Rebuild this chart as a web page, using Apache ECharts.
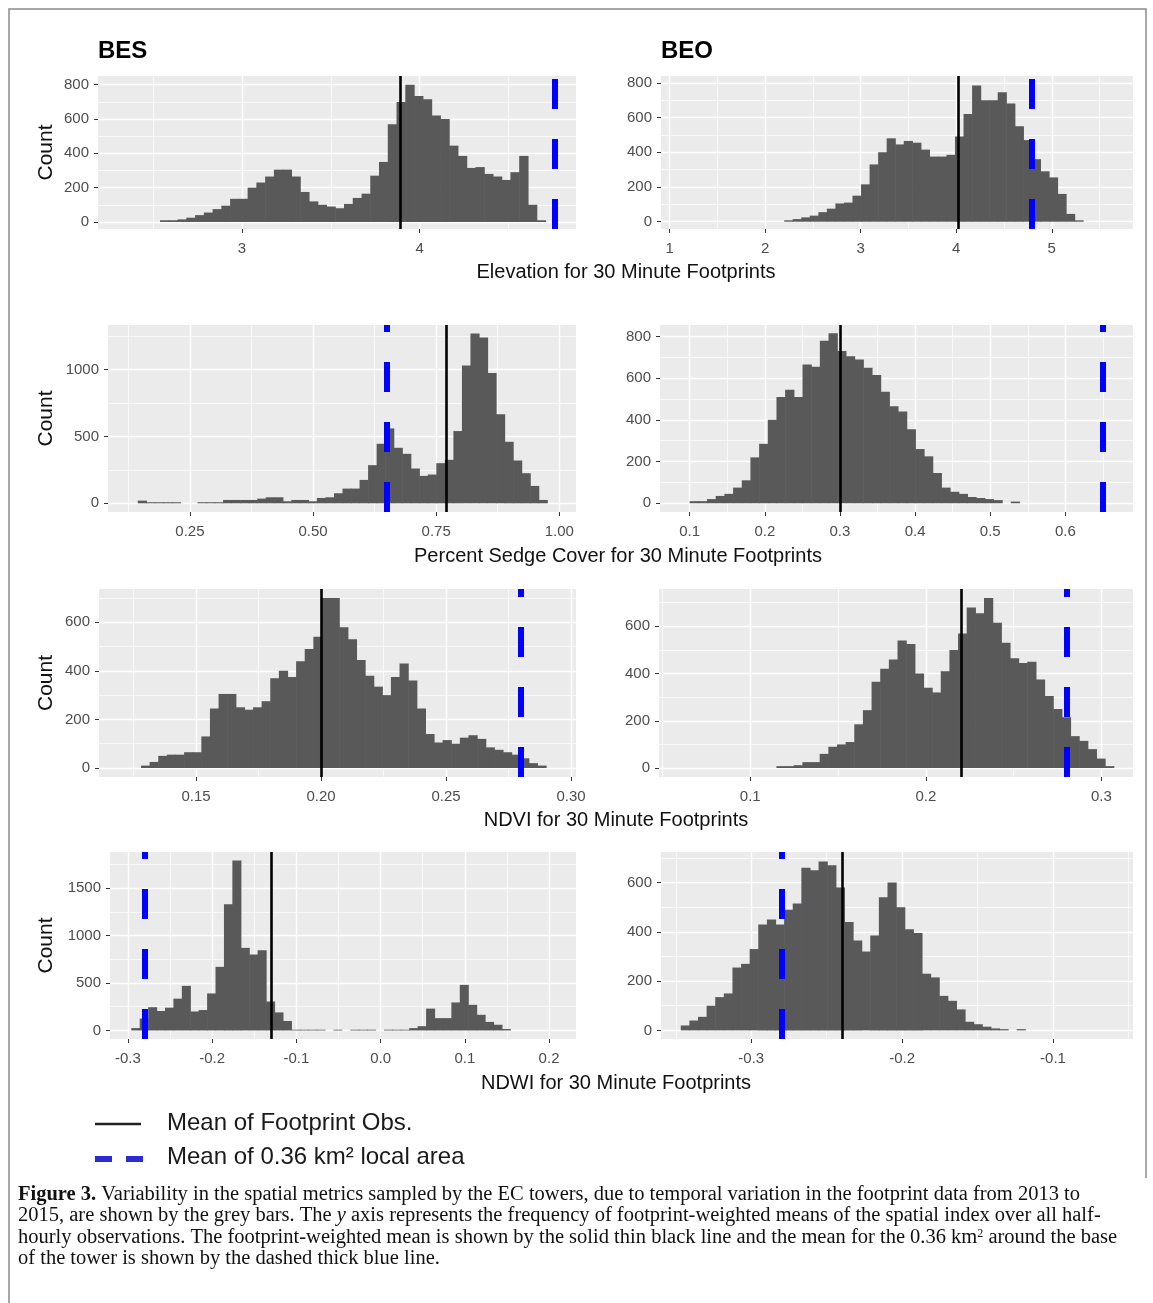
<!DOCTYPE html>
<html>
<head>
<meta charset="utf-8">
<title>Figure 3</title>
<script src="https://cdn.jsdelivr.net/npm/echarts@6.0.0/dist/echarts.min.js"></script>
<style>
html,body{margin:0;padding:0;background:#ffffff;}
#chart{width:1153px;height:1303px;}
</style>
</head>
<body>
<div id="chart"></div>
<script>
// ===================== DATA =====================
// Each histogram: left edge of first bin, bin width, counts per bin
const elevBES_binStart = 2.539;
const elevBES_binWidth = 0.0493;
const elevBES_counts = [10,10,15,25,40,55,75,95,135,135,200,230,265,305,305,265,175,120,100,90,80,105,140,165,270,350,570,700,800,735,715,620,600,445,385,315,320,280,265,245,290,385,100,10];
const elevBES_meanFootprint = 3.89;
const elevBES_meanLocal = 4.76;

const elevBEO_binStart = 2.199;
const elevBEO_binWidth = 0.0894;
const elevBEO_counts = [8,15,25,35,55,75,105,110,150,215,330,400,480,445,465,455,415,375,375,385,490,620,785,700,700,745,680,550,470,360,290,255,160,45,8];
const elevBEO_meanFootprint = 4.02;
const elevBEO_meanLocal = 4.785;

const sedgeBES_binStart = 0.1442;
const sedgeBES_binWidth = 0.01732;
const sedgeBES_counts = [20,8,8,8,8,0,0,8,8,8,25,25,25,25,35,45,45,15,25,25,15,40,45,75,110,110,175,285,445,560,415,370,260,205,215,300,325,540,1030,1270,1240,975,665,460,320,225,130,25];
const sedgeBES_meanFootprint = 0.766;
const sedgeBES_meanLocal = 0.646;

const sedgeBEO_binStart = 0.1;
const sedgeBEO_binWidth = 0.01155;
const sedgeBEO_counts = [10,10,20,35,45,75,110,220,285,400,510,545,510,665,655,780,815,730,705,690,650,615,535,465,440,355,260,225,145,75,55,45,30,25,20,15,0,8];
const sedgeBEO_meanFootprint = 0.300;
const sedgeBEO_meanLocal = 0.647;

const ndviBES_binStart = 0.128;
const ndviBES_binWidth = 0.003447;
const ndviBES_counts = [10,25,50,55,55,65,65,130,245,305,305,250,240,250,275,370,400,375,440,490,540,700,700,580,530,445,380,335,300,375,430,360,245,140,105,115,100,125,135,120,85,75,65,55,40,20,10];
const ndviBES_meanFootprint = 0.2045;
const ndviBES_meanLocal = 0.2766;

const ndviBEO_binStart = 0.1149;
const ndviBEO_binWidth = 0.004926;
const ndviBEO_counts = [8,8,12,25,25,60,90,100,110,185,245,365,420,460,540,525,400,340,320,410,500,570,680,655,720,615,530,465,445,450,375,305,250,215,135,115,80,40,8];
const ndviBEO_meanFootprint = 0.2208;
const ndviBEO_meanLocal = 0.2772;

const ndwiBES_binStart = -0.296;
const ndwiBES_binWidth = 0.01;
const ndwiBES_counts = [25,125,245,205,240,335,470,200,215,390,670,1330,1790,870,800,845,305,190,100,8,8,8,8,0,8,0,8,8,8,0,8,8,8,25,45,230,130,130,295,480,270,165,90,60,15];
const ndwiBES_meanFootprint = -0.134;
const ndwiBES_meanLocal = -0.2787;

const ndwiBEO_binStart = -0.3467;
const ndwiBEO_binWidth = 0.005708;
const ndwiBEO_counts = [20,40,55,100,135,150,255,270,330,430,450,430,490,515,660,650,685,670,580,440,365,320,385,540,600,500,410,395,230,215,140,120,85,35,25,15,8,5,0,5];
const ndwiBEO_meanFootprint = -0.2441;
const ndwiBEO_meanLocal = -0.280;

// Tick values and labels
const elevBES_xTicks = [3, 4];
const elevBES_xLabels = ['3', '4'];
const elevBES_xMinor = [2.5, 3.5, 4.5];
const elevBEO_xTicks = [1, 2, 3, 4, 5];
const elevBEO_xLabels = ['1', '2', '3', '4', '5'];
const elevBEO_xMinor = [1.5, 2.5, 3.5, 4.5, 5.5];
const sedgeBES_xTicks = [0.25, 0.5, 0.75, 1.0];
const sedgeBES_xLabels = ['0.25', '0.50', '0.75', '1.00'];
const sedgeBES_xMinor = [0.125, 0.375, 0.625, 0.875];
const sedgeBEO_xTicks = [0.1, 0.2, 0.3, 0.4, 0.5, 0.6];
const sedgeBEO_xLabels = ['0.1', '0.2', '0.3', '0.4', '0.5', '0.6'];
const sedgeBEO_xMinor = [0.15, 0.25, 0.35, 0.45, 0.55, 0.65];
const ndviBES_xTicks = [0.15, 0.2, 0.25, 0.3];
const ndviBES_xLabels = ['0.15', '0.20', '0.25', '0.30'];
const ndviBES_xMinor = [0.125, 0.175, 0.225, 0.275];
const ndviBEO_xTicks = [0.1, 0.2, 0.3];
const ndviBEO_xLabels = ['0.1', '0.2', '0.3'];
const ndviBEO_xMinor = [0.05, 0.15, 0.25];
const ndwiBES_xTicks = [-0.3, -0.2, -0.1, 0, 0.1, 0.2];
const ndwiBES_xLabels = ['-0.3', '-0.2', '-0.1', '0.0', '0.1', '0.2'];
const ndwiBES_xMinor = [-0.25, -0.15, -0.05, 0.05, 0.15];
const ndwiBEO_xTicks = [-0.3, -0.2, -0.1];
const ndwiBEO_xLabels = ['-0.3', '-0.2', '-0.1'];
const ndwiBEO_xMinor = [-0.35, -0.25, -0.15, -0.05];

const count800_yTicks = [0, 200, 400, 600, 800];
const count800_yLabels = ['0', '200', '400', '600', '800'];
const count800_yMinor = [100, 300, 500, 700];
const count1000_yTicks = [0, 500, 1000];
const count1000_yLabels = ['0', '500', '1000'];
const count1000_yMinor = [250, 750, 1250];
const count600_yTicks = [0, 200, 400, 600];
const count600_yLabels = ['0', '200', '400', '600'];
const count600_yMinor = [100, 300, 500, 700];
const count1500_yTicks = [0, 500, 1000, 1500];
const count1500_yLabels = ['0', '500', '1000', '1500'];
const count1500_yMinor = [250, 750, 1250, 1750];

const siteTitles = ['BES', 'BEO'];
const rowTitles = ['Elevation for 30 Minute Footprints', 'Percent Sedge Cover for 30 Minute Footprints', 'NDVI for 30 Minute Footprints', 'NDWI for 30 Minute Footprints'];
const yTitle = 'Count';
const legendLabels = ['Mean of Footprint Obs.', 'Mean of 0.36 km\u00B2 local area'];

// ===================== PANEL DEFINITIONS =====================
const PANELS = [
  {start: elevBES_binStart, width: elevBES_binWidth, counts: elevBES_counts, mObs: elevBES_meanFootprint, mLoc: elevBES_meanLocal, xT: elevBES_xTicks, xL: elevBES_xLabels, xM: elevBES_xMinor, yT: count800_yTicks, yL: count800_yLabels, yM: count800_yMinor},
  {start: elevBEO_binStart, width: elevBEO_binWidth, counts: elevBEO_counts, mObs: elevBEO_meanFootprint, mLoc: elevBEO_meanLocal, xT: elevBEO_xTicks, xL: elevBEO_xLabels, xM: elevBEO_xMinor, yT: count800_yTicks, yL: count800_yLabels, yM: count800_yMinor},
  {start: sedgeBES_binStart, width: sedgeBES_binWidth, counts: sedgeBES_counts, mObs: sedgeBES_meanFootprint, mLoc: sedgeBES_meanLocal, xT: sedgeBES_xTicks, xL: sedgeBES_xLabels, xM: sedgeBES_xMinor, yT: count1000_yTicks, yL: count1000_yLabels, yM: count1000_yMinor},
  {start: sedgeBEO_binStart, width: sedgeBEO_binWidth, counts: sedgeBEO_counts, mObs: sedgeBEO_meanFootprint, mLoc: sedgeBEO_meanLocal, xT: sedgeBEO_xTicks, xL: sedgeBEO_xLabels, xM: sedgeBEO_xMinor, yT: count800_yTicks, yL: count800_yLabels, yM: count800_yMinor},
  {start: ndviBES_binStart, width: ndviBES_binWidth, counts: ndviBES_counts, mObs: ndviBES_meanFootprint, mLoc: ndviBES_meanLocal, xT: ndviBES_xTicks, xL: ndviBES_xLabels, xM: ndviBES_xMinor, yT: count600_yTicks, yL: count600_yLabels, yM: count600_yMinor},
  {start: ndviBEO_binStart, width: ndviBEO_binWidth, counts: ndviBEO_counts, mObs: ndviBEO_meanFootprint, mLoc: ndviBEO_meanLocal, xT: ndviBEO_xTicks, xL: ndviBEO_xLabels, xM: ndviBEO_xMinor, yT: count600_yTicks, yL: count600_yLabels, yM: count600_yMinor},
  {start: ndwiBES_binStart, width: ndwiBES_binWidth, counts: ndwiBES_counts, mObs: ndwiBES_meanFootprint, mLoc: ndwiBES_meanLocal, xT: ndwiBES_xTicks, xL: ndwiBES_xLabels, xM: ndwiBES_xMinor, yT: count1500_yTicks, yL: count1500_yLabels, yM: count1500_yMinor},
  {start: ndwiBEO_binStart, width: ndwiBEO_binWidth, counts: ndwiBEO_counts, mObs: ndwiBEO_meanFootprint, mLoc: ndwiBEO_meanLocal, xT: ndwiBEO_xTicks, xL: ndwiBEO_xLabels, xM: ndwiBEO_xMinor, yT: count600_yTicks, yL: count600_yLabels, yM: count600_yMinor}
];

// ===================== LAYOUT (pixels, axis limits) =====================
const LAYOUT = [
  {l: 98,  r: 576,  t: 76,  b: 229,  xr: [2.19, 4.88],      yr: [-41, 851],  gap: 41},
  {l: 661, r: 1133, t: 76,  b: 229,  xr: [0.91, 5.85],      yr: [-42, 839]},
  {l: 108, r: 576,  t: 325, b: 512,  xr: [0.0837, 1.034],   yr: [-65, 1333], gap: 51},
  {l: 660, r: 1133, t: 325, b: 512,  xr: [0.0605, 0.69],    yr: [-42, 855]},
  {l: 99,  r: 576,  t: 589, b: 777,  xr: [0.1112, 0.302],   yr: [-37, 737],  gap: 42},
  {l: 659, r: 1133, t: 589, b: 777,  xr: [0.048, 0.318],    yr: [-38, 758]},
  {l: 110, r: 576,  t: 852, b: 1039, xr: [-0.3213, 0.232],  yr: [-90, 1880], gap: 53},
  {l: 661, r: 1133, t: 852, b: 1039, xr: [-0.3598, -0.047], yr: [-35, 724]}
];

const FONT = '"Liberation Sans", Arial, sans-serif';
const SERIF = '"Liberation Serif", "Times New Roman", serif';
const BAR = '#595959';
const BLUE = '#0000FF';

function pickLabel(vals, labels, v) {
  let k = 0, d = Infinity;
  vals.forEach(function (t, j) { const e = Math.abs(t - v); if (e < d) { d = e; k = j; } });
  return labels[k];
}

const grids = [], xAxes = [], yAxes = [], series = [];

PANELS.forEach(function (p, i) {
  const L = LAYOUT[i];
  grids.push({
    left: L.l, top: L.t, width: L.r - L.l, height: L.b - L.t,
    show: true, backgroundColor: '#EBEBEB', borderWidth: 0, containLabel: false, outerBoundsMode: 'none'
  });
  // minor x grid lines
  xAxes.push({
    type: 'value', gridIndex: i, min: L.xr[0], max: L.xr[1], position: 'bottom',
    axisLine: {show: false, onZero: false}, axisLabel: {show: false},
    axisTick: {show: false, customValues: p.xM},
    splitLine: {show: true, lineStyle: {color: '#FFFFFF', width: 0.7}}
  });
  const xMajor = xAxes.length;
  xAxes.push({
    type: 'value', gridIndex: i, min: L.xr[0], max: L.xr[1], position: 'bottom',
    axisLine: {show: false, onZero: false},
    axisTick: {show: true, length: 4, customValues: p.xT, lineStyle: {color: '#333333', width: 1}},
    axisLabel: {show: true, customValues: p.xT, margin: 12, color: '#4D4D4D', fontSize: 15, fontFamily: FONT,
      formatter: function (v) { return pickLabel(p.xT, p.xL, v); }},
    splitLine: {show: true, lineStyle: {color: '#FFFFFF', width: 1.4}}
  });
  yAxes.push({
    type: 'value', gridIndex: i, min: L.yr[0], max: L.yr[1], position: 'left',
    axisLine: {show: false, onZero: false}, axisLabel: {show: false},
    axisTick: {show: false, customValues: p.yM},
    splitLine: {show: true, lineStyle: {color: '#FFFFFF', width: 0.7}}
  });
  const yMajor = yAxes.length;
  const ya = {
    type: 'value', gridIndex: i, min: L.yr[0], max: L.yr[1], position: 'left',
    axisLine: {show: false, onZero: false},
    axisTick: {show: true, length: 4, customValues: p.yT, lineStyle: {color: '#333333', width: 1}},
    axisLabel: {show: true, customValues: p.yT, margin: 9, color: '#4D4D4D', fontSize: 15, fontFamily: FONT,
      formatter: function (v) { return pickLabel(p.yT, p.yL, v); }},
    splitLine: {show: true, lineStyle: {color: '#FFFFFF', width: 1.4}}
  };
  if (L.gap) {
    ya.name = yTitle;
    ya.nameLocation = 'middle';
    ya.nameGap = L.gap;
    ya.nameRotate = 90;
    ya.nameTextStyle = {fontSize: 21, color: '#111111', fontFamily: FONT};
  }
  yAxes.push(ya);

  const bins = p.counts.map(function (c, k) {
    return [p.start + k * p.width, p.start + (k + 1) * p.width, c];
  });

  series.push({
    type: 'custom', xAxisIndex: xMajor, yAxisIndex: yMajor, clip: true, silent: true,
    encode: {x: [0, 1], y: 2},
    data: bins,
    renderItem: function (params, api) {
      const a = api.coord([api.value(0), 0]);
      const b = api.coord([api.value(1), api.value(2)]);
      const h = a[1] - b[1];
      if (h <= 0) return null;
      return {type: 'rect', shape: {x: a[0], y: b[1], width: b[0] - a[0] + 0.6, height: h}, style: {fill: BAR}};
    },
    markLine: {
      silent: true, animation: false, symbol: ['none', 'none'], label: {show: false},
      emphasis: {disabled: true},
      data: [
        {xAxis: p.mObs, lineStyle: {color: '#000000', width: 2.6, type: 'solid'}},
        {xAxis: p.mLoc, lineStyle: {color: BLUE, width: 6, type: [30, 30], cap: 'butt'}}
      ]
    }
  });
});

const titles = [
  {text: siteTitles[0], left: 98, top: 39, padding: 0, textStyle: {fontSize: 24, fontWeight: 'bold', color: '#000000', fontFamily: FONT}},
  {text: siteTitles[1], left: 661, top: 39, padding: 0, textStyle: {fontSize: 24, fontWeight: 'bold', color: '#000000', fontFamily: FONT}}
];

const rowTitleCenters = [[626, 272], [618, 556], [616, 820], [616, 1083]];
const graphics = [];
graphics.push({type: 'polyline', silent: true, shape: {points: [[9, 1303], [9, 9], [1146, 9], [1146, 1178]]}, style: {stroke: '#8a8a8a', lineWidth: 1.5, fill: null}});
rowTitles.forEach(function (t, i) {
  graphics.push({type: 'text', silent: true, x: rowTitleCenters[i][0], y: rowTitleCenters[i][1],
    style: {text: t, fontSize: 20, fontFamily: FONT, fill: '#111111', align: 'center', verticalAlign: 'middle', textAlign: 'center', textVerticalAlign: 'middle'}});
});
// legend
graphics.push({type: 'line', silent: true, shape: {x1: 95, y1: 1124, x2: 141, y2: 1124}, style: {stroke: '#222222', lineWidth: 2.5}});
graphics.push({type: 'line', silent: true, shape: {x1: 95, y1: 1159, x2: 112, y2: 1159}, style: {stroke: '#2b2bd6', lineWidth: 6}});
graphics.push({type: 'line', silent: true, shape: {x1: 126, y1: 1159, x2: 143, y2: 1159}, style: {stroke: '#2b2bd6', lineWidth: 6}});
legendLabels.forEach(function (t, i) {
  graphics.push({type: 'text', silent: true, x: 167, y: i === 0 ? 1123 : 1157,
    style: {text: t, fontSize: 24, fontFamily: FONT, fill: '#1a1a1a', align: 'left', verticalAlign: 'middle', textAlign: 'left', textVerticalAlign: 'middle'}});
});
// caption
const captionLines = [
  '{b|Figure 3.} Variability in the spatial metrics sampled by the EC towers, due to temporal variation in the footprint data from 2013 to',
  '2015, are shown by the grey bars. The {i|y} axis represents the frequency of footprint-weighted means of the spatial index over all half-',
  'hourly observations. The footprint-weighted mean is shown by the solid thin black line and the mean for the 0.36\u00A0km{s|2} around the base',
  'of the tower is shown by the dashed thick blue line.'
];
const CAP = 20.5;
const captionY = [1195, 1216, 1238, 1259];
captionLines.forEach(function (t, i) {
  graphics.push({type: 'text', silent: true, x: 18, y: captionY[i],
    style: {text: t, fontSize: CAP, fontFamily: SERIF, fill: '#111111', align: 'left', verticalAlign: 'middle', textAlign: 'left', textVerticalAlign: 'middle',
      rich: {
        b: {fontWeight: 'bold', fontSize: CAP, fontFamily: SERIF, fill: '#111111'},
        i: {fontStyle: 'italic', fontSize: CAP, fontFamily: SERIF, fill: '#111111'},
        s: {fontSize: 12, fontFamily: SERIF, fill: '#111111', verticalAlign: 'top', padding: [0, 0, 9, 0]}
      }}});
});

const chart = echarts.init(document.getElementById('chart'), null, {renderer: 'canvas', width: 1153, height: 1303});
chart.setOption({
  animation: false,
  backgroundColor: '#ffffff',
  title: titles,
  grid: grids,
  xAxis: xAxes,
  yAxis: yAxes,
  series: series,
  graphic: graphics
});
</script>
</body>
</html>
